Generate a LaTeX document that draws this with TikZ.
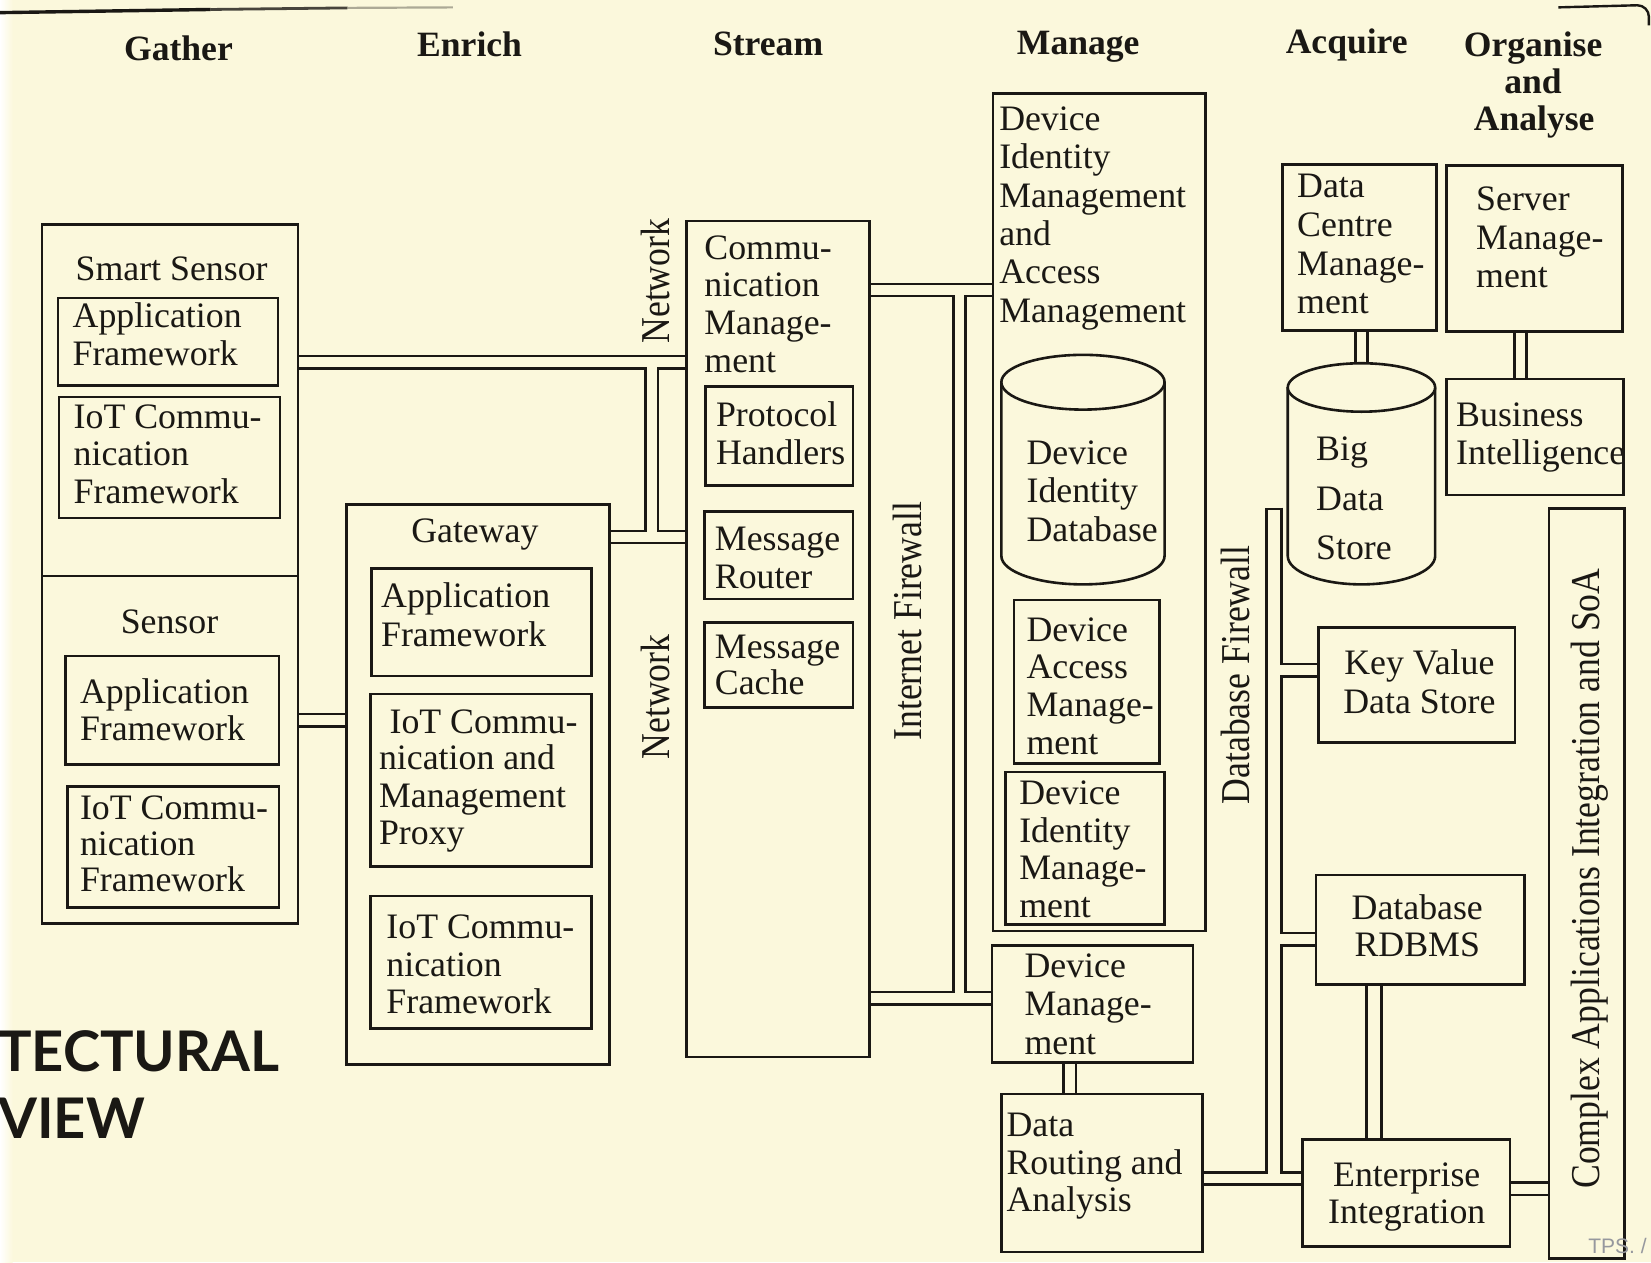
\documentclass[tikz,border=0pt]{standalone}
\usepackage{fontspec}
\setmainfont{Liberation Serif}
\newfontfamily\tallserif[FakeStretch=0.87]{Liberation Serif}
\newfontfamily\bannersans{Lato}
\newfontfamily\marksans{Liberation Sans}
\usetikzlibrary{fit,backgrounds}

\definecolor{paper}{RGB}{251,248,220}
\definecolor{ink}{RGB}{26,24,20}
\definecolor{markgray}{RGB}{150,152,158}

\tikzset{
  box/.style={draw=ink, line width=1.3pt, fill=paper, inner sep=0pt, outer sep=0pt},
  ln/.style={draw=ink, line width=1.3pt},
  txt/.style={inner sep=0pt, outer sep=0pt, text=ink, font=\fontsize{17.9}{19}\selectfont},
  head/.style={txt, font=\fontsize{17.8}{19}\selectfont\bfseries, anchor=base},
  vlabel/.style={inner sep=0pt, outer sep=0pt, text=ink,
    font=\tallserif\fontsize{20.5}{22}\selectfont, rotate=90, anchor=base},
  wallpipe/.style={draw=ink, line width=7.37pt},
  borepipe/.style={draw=paper, line width=4.74pt},
  wallpipew/.style={draw=ink, line width=8.69pt},
  borepipew/.style={draw=paper, line width=6.05pt},
}

% a framed box given by two corners
\newcommand\bx[5]{\node[box, fit={(#2,#3) (#4,#5)}] (#1) {};}
% lines of text: name, x, first baseline, anchor, line step, lines
\newcommand\tx[6]{%
  \foreach \lineTxt [count=\i] in {#6}{%
    \node[txt, anchor=#4] (#1\i) at (#2,{#3+#5*(\i-1)}) {\lineTxt};}}
% a vertical cylinder: name, left x, right x, top centre y, top ry, bottom centre y, bottom ry
\newcommand\cyl[7]{%
  \node[inner sep=0pt, outer sep=0pt, fit={(#2,{#4-#5}) (#3,{#6+#7})}] (#1) {};
  \pgfmathsetmacro\cylrx{(#3-#2)/2}
  \fill[paper] (#2,#4) -- (#2,#6) arc[start angle=180, end angle=0, x radius=\cylrx, y radius=#7] -- (#3,#4) -- cycle;
  \draw[ln] (#2,#4) -- (#2,#6) arc[start angle=180, end angle=0, x radius=\cylrx, y radius=#7] -- (#3,#4);
  \draw[ln, fill=paper] ({(#2+#3)/2},#4) ellipse [x radius=\cylrx, y radius=#5];}

% all double-line links, drawn once as walls and once as bores
\newcommand\pipenet[1]{%
  \draw[#1] (smart.center |- netTop) -- (comm.center |- netTop);
  \draw[#1] (netTop) -- (netBot);
  \draw[#1] (gateway.center |- netBot) -- (comm.center |- netBot);
  \draw[#1] (sensor.center |- ySensor) -- (gateway.center |- ySensor);
  \draw[#1] (comm.center |- ifwTop) -- (manage.center |- ifwTop);
  \draw[#1] (ifwTop) -- (ifwBot);
  \draw[#1] (comm.center |- ifwBot) -- (devMgmt.center |- ifwBot);
  \draw[#1] (dmLink |- devMgmt.center) -- (dmLink |- routing.center);
  \draw[#1] (dcLink |- dcm.center) -- (dcLink |- bigData.center);
  \draw[#1] (smLink |- server.center) -- (smLink |- bi.center);
  \draw[#1] (dbfwTop |- yKV) -- (keyval.center |- yKV);
  \draw[#1] (dbfwTop |- yRD) -- (rdbms.center |- yRD);
  \draw[#1] (routing.center |- dbfwBot) -- (enterprise.center |- dbfwBot);
  \draw[#1] (enterprise.center |- yEC) -- (complex.center |- yEC);}

\begin{document}
\begin{tikzpicture}[x=0.5265pt, y=-0.5265pt]
\useasboundingbox (0,0) rectangle (1568,1199);
\begin{scope}[on background layer]
  \fill[paper] (0,0) rectangle (1568,1199);
  \shade[left color=white, right color=paper] (0,0) rectangle (12,1199);
\end{scope}

% column headings
\node[head] (hGather) at (169.5,57.5) {Gather};
\node[head] (hEnrich) at (446,54) {Enrich};
\node[head] (hStream) at (729.5,53) {Stream};
\node[head] (hManage) at (1024,52) {Manage};
\node[head] (hAcquire) at (1279,51) {Acquire};
\node[head] (hOrg1) at (1456,54) {Organise};
\node[head] (hOrg2) at (1456,89) {and};
\node[head] (hOrg3) at (1457,124) {Analyse};

% Gather
\bx{smart}{40}{213}{283}{547}
\bx{sensor}{40}{547}{283}{877}
\tx{ssT}{163}{266}{base}{0}{Smart Sensor}
\bx{ssApp}{55}{283}{264}{366}
\tx{ssAppT}{69}{311}{base west}{36}{Application,Framework}
\bx{ssIoT}{56}{377}{266}{492}
\tx{ssIoTT}{70}{407}{base west}{35.5}{IoT Commu-,nication,Framework}
\tx{sT}{161}{602}{base}{0}{Sensor}
\bx{sApp}{62}{623}{265}{726}
\tx{sAppT}{76}{668}{base west}{35}{Application,Framework}
\bx{sIoT}{64}{747}{265}{862}
\tx{sIoTT}{76}{778}{base west}{34.5}{IoT Commu-,nication,Framework}

% Enrich
\bx{gateway}{329}{479}{579}{1011}
\tx{gwT}{451}{515}{base}{0}{Gateway}
\bx{gApp}{353}{540}{562}{642}
\tx{gAppT}{362}{577}{base west}{37}{Application,Framework}
\bx{gProxy}{352}{659}{562}{823}
\tx{gPrxA}{370}{697}{base west}{0}{IoT Commu-}
\tx{gPrxB}{360}{731}{base west}{35.5}{nication and,Management,Proxy}
\bx{gIoT}{352}{851}{562}{977}
\tx{gIoTT}{367}{891}{base west}{36}{IoT Commu-,nication,Framework}

% Stream
\bx{comm}{652}{210}{826}{1004}
\tx{commT}{669}{246}{base west}{36}{Commu-,nication,Manage-,ment}
\bx{proto}{670}{367}{810}{461}
\tx{protoT}{680}{405}{base west}{36}{Protocol,Handlers}
\bx{router}{669}{486}{810}{569}
\tx{routerT}{679}{523}{base west}{36}{Message,Router}
\bx{cache}{669}{591}{810}{672}
\tx{cacheT}{679}{625}{base west}{34.5}{Message,Cache}
\node[vlabel] (net1) at (636,267) {Network};
\node[vlabel] (net2) at (636,662) {Network};

% Manage
\bx{manage}{943}{89}{1145}{884}
\tx{manageT}{949}{124}{base west}{36.4}{Device,Identity,Management,and,Access,Management}
\cyl{idDB}{951}{1106}{363}{26}{528}{27}
\tx{idDBT}{975}{441}{base west}{36.5}{Device,Identity,Database}
\bx{access}{963}{570}{1101}{725}
\tx{accessT}{975}{609}{base west}{35.7}{Device,Access,Manage-,ment}
\bx{idMgmt}{955}{733}{1106}{878}
\tx{idMgmtT}{968}{764}{base west}{35.7}{Device,Identity,Manage-,ment}
\bx{devMgmt}{942}{898}{1133}{1009}
\tx{devMgmtT}{973}{928}{base west}{36.5}{Device,Manage-,ment}
\bx{routing}{951}{1039}{1142}{1189}
\tx{routingT}{956}{1079}{base west}{36}{Data,Routing and,Analysis}
\node[vlabel] (inetfw) at (875,590) {Internet Firewall};

% Acquire
\bx{dcm}{1218}{156}{1364}{314}
\tx{dcmT}{1232}{188}{base west}{36.7}{Data,Centre,Manage-,ment}
\cyl{bigData}{1223}{1363}{368}{23}{528}{27}
\tx{bigT}{1250}{437.5}{base west}{47}{Big,Data,Store}
\bx{keyval}{1252}{596}{1439}{705}
\tx{kvT}{1348}{640.5}{base}{37.5}{Key Value,Data Store}
\bx{rdbms}{1250}{831}{1448}{935}
\tx{rdT}{1346}{873}{base}{35}{Database,RDBMS}
\bx{enterprise}{1237}{1082}{1434}{1184}
\tx{entT}{1336}{1127}{base}{35}{Enterprise,Integration}
\node[vlabel] (dbfw) at (1187,641) {Database Firewall};

% Organise and Analyse
\bx{server}{1374}{157}{1541}{315}
\tx{serverT}{1402}{200}{base west}{36.5}{Server,Manage-,ment}
\bx{bi}{1374}{360}{1542}{470}
\tx{biT}{1383}{405}{base west}{36}{Business,Intelligence}
\bx{complex}{1471}{483}{1543}{1195}
\node[vlabel] (soa) at (1519,834.5) {Complex Applications Integration and SoA};

% link routing points
\coordinate (netTop) at (619,344);
\coordinate (netBot) at (619,510);
\coordinate (ySensor) at (0,684);
\coordinate (ifwTop) at (911,275.5);
\coordinate (ifwBot) at (911,948);
\coordinate (dmLink) at (1016,0);
\coordinate (dcLink) at (1293,0);
\coordinate (smLink) at (1444,0);
\coordinate (rdLink) at (1305,0);
\coordinate (dbfwTop) at (1210,482);
\coordinate (dbfwBot) at (1210,1119);
\coordinate (yKV) at (0,636.5);
\coordinate (yRD) at (0,892);
\coordinate (yEC) at (0,1129);

\begin{scope}[on background layer]
  \pipenet{wallpipe}
  \draw[wallpipew] (dbfwTop) -- (dbfwBot);
  \draw[wallpipew] (rdLink |- rdbms.center) -- (rdLink |- enterprise.center);
  \pipenet{borepipe}
  \draw[borepipew] ([yshift=-1.3pt]dbfwTop) -- (dbfwBot);
  \draw[borepipew] (rdLink |- rdbms.center) -- (rdLink |- enterprise.center);
\end{scope}

% page edges
\draw[ink, line width=1.7pt] (0,12) -- (200,9);
\draw[ink, line width=1.4pt, opacity=0.8] (200,9) -- (330,7.5);
\draw[ink, line width=1.1pt, opacity=0.35] (330,7.5) -- (430,7);
\draw[ink, line width=1.2pt] (1480,7) -- (1555,5) to[out=0, in=90] (1566,16) -- (1566,24);

% caption fragment and mark
\node[inner sep=0pt, anchor=base west, text=ink,
  font=\bannersans\bfseries\fontsize{28}{30}\selectfont] (banner1) at (-2,1018) {TECTURAL};
\node[inner sep=0pt, anchor=base west, text=ink,
  font=\bannersans\bfseries\fontsize{28}{30}\selectfont] (banner2) at (-2,1081) {VIEW};
\node[inner sep=0pt, anchor=base west, text=markgray,
  font=\marksans\fontsize{10.5}{12}\selectfont] (tps) at (1508,1190) {TPS. /};
\end{tikzpicture}
\end{document}
